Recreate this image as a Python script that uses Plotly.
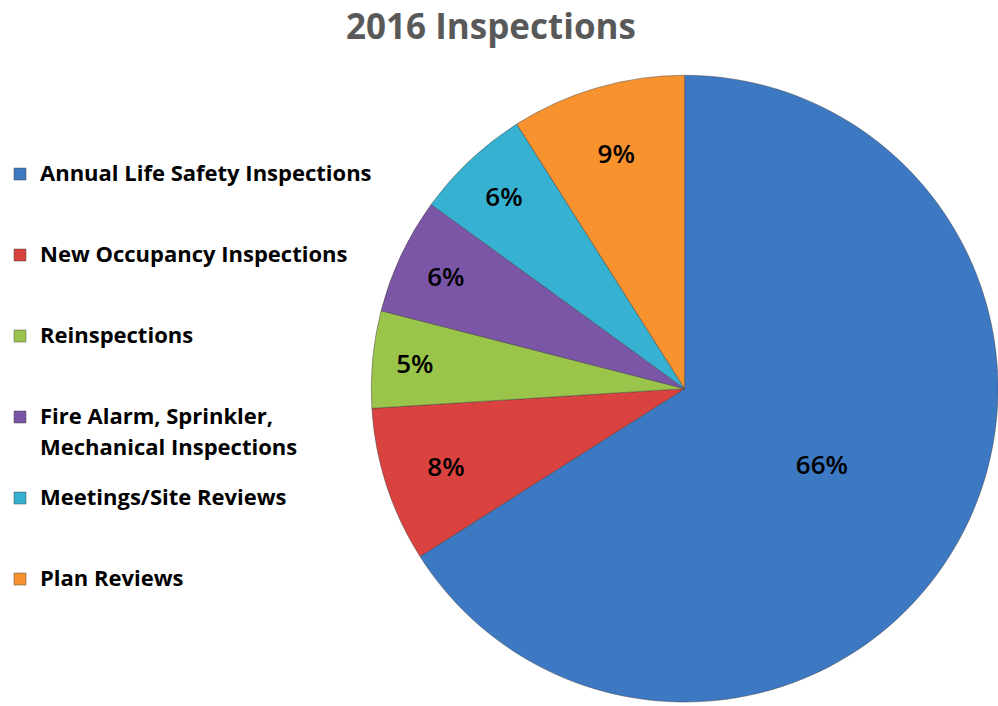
import plotly.graph_objects as go

categories = [
    "Annual Life Safety Inspections",
    "New Occupancy Inspections",
    "Reinspections",
    "Fire Alarm, Sprinkler,<br>Mechanical Inspections",
    "Meetings/Site Reviews",
    "Plan Reviews",
]
shares = [66, 8, 5, 6, 6, 9]
colors = ["#3D78C2", "#D9423F", "#9BC44A", "#7B56A6", "#37B1D2", "#F7922F"]

# Legend entries are built on a tiny base font (line step 5.2 px) so that every
# entry spans 15 base lines (= 81 px) and wrapped labels get a 31 px line gap.
LEGEND_BASE = 4
STEPS_PER_ENTRY = 15
WRAP_STEPS = 6
legend_labels = []
for c in categories:
    parts = c.split("<br>")
    rows = [" "] * STEPS_PER_ENTRY
    for i, p in enumerate(parts):
        rows[1 + i * WRAP_STEPS] = '<span style="font-size:22px">%s</span>' % p
    legend_labels.append("<br>".join(rows))

fig = go.Figure(
    go.Pie(
        labels=legend_labels,
        values=shares,
        sort=False,
        direction="clockwise",
        rotation=0,
        marker=dict(colors=colors, line=dict(color="rgba(60,60,60,0.45)", width=1)),
        texttemplate="%{percent:.0%}",
        textposition="inside",
        insidetextorientation="horizontal",
        textfont=dict(family="Open Sans", size=26, color="black", weight=600),
        domain=dict(x=[0.372, 1.0], y=[0.0, 0.899]),
        hoverinfo="percent",
    )
)

fig.update_layout(
    width=998,
    height=706,
    margin=dict(l=0, r=0, t=0, b=0),
    paper_bgcolor="white",
    plot_bgcolor="white",
    title=dict(
        text="2016 Inspections",
        x=0.492,
        xanchor="center",
        y=0.962,
        yanchor="middle",
        yref="container",
        font=dict(family="Open Sans", size=35, color="#595959", weight="bold"),
    ),
    showlegend=True,
    legend=dict(
        x=0.0,
        xanchor="left",
        y=0.7664,
        yanchor="top",
        valign="top",
        font=dict(family="Open Sans", size=LEGEND_BASE, color="black", weight="bold"),
        bgcolor="rgba(0,0,0,0)",
        traceorder="normal",
    ),
)

fig.write_html(
    "out.html",
    config={"displayModeBar": False},
    post_script="document.body.style.margin='0';",
)
